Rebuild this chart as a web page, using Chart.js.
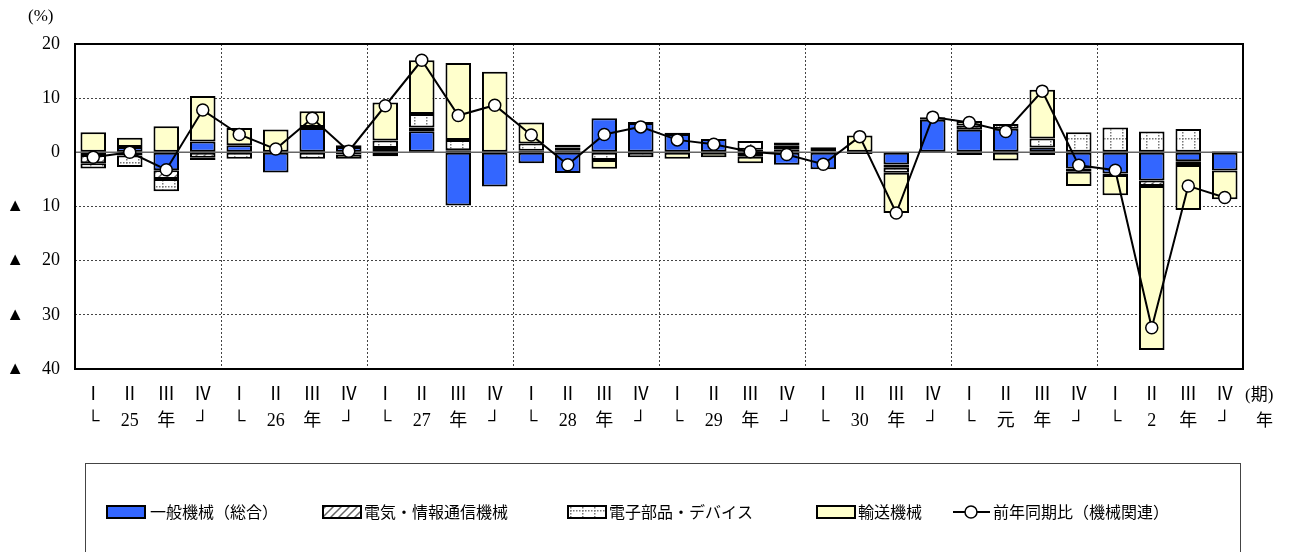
<!DOCTYPE html>
<html>
<head>
<meta charset="utf-8">
<script src="https://cdn.jsdelivr.net/npm/chart.js@4.4.0/dist/chart.umd.min.js"></script>
<style>
  body { margin: 0; background: #fff; }
</style>
</head>
<body>
<canvas id="chart" width="1293" height="552"></canvas>
<script>
// years and quarters on the x axis
const years = ['25', '26', '27', '28', '29', '30', '元', '2'];
const quarterNames = ['Ⅰ', 'Ⅱ', 'Ⅲ', 'Ⅳ'];

// contributions (percentage points)
const general   = [-0.5, 1.0, -3.3, 2.0,  1.3, -3.7, 4.5, 1.0,  -0.7, 3.9, -9.8, -6.3,  -2.0, -3.8, 6.3, 5.4,
                    3.4, 2.45, -0.8, -2.3,  -3.1, -0.3, -2.25, 6.0,  4.15, 4.35, 0.9, -3.0,  -3.9, -5.2, -1.65, -3.35];
const electric  = [-1.5, -0.6, -1.6, -1.0,  0, 0, 0.2, 0.3,  0.8, 0.7, 0.4, 0,  0.3, 0.4, 0, 0.2,
                    0.2, 0, 0.5, 0.5,  0, 0, -0.6, 0.5,  0.8, 0, -0.5, -0.6,  -0.3, -1.0, -0.7, 0.2];
const parts     = [-1.0, -2.1, -2.3, -0.4,  -1.2, 0, -1.2, -0.4,  1.4, 2.5, 1.9, 0,  1.35, 0.5, -1.4, -0.9,
                    0, 0, 1.6, 0.7,  0.2, 0, -0.9, 0,  -0.5, 0.9, 1.65, 3.7,  4.6, 3.85, 4.3, 0];
const transport = [3.7, 1.7, 4.8, 8.4,  3.2, 4.2, 2.9, -0.8,  7.0, 9.9, 14.2, 14.9,  3.85, 0.5, -1.65, 0,
                    -1.2, -0.9, -1.2, 0.6,  0.75, 3.1, -7.45, 0,  0.85, -1.5, 9.0, -2.6,  -3.7, -30.3, -8.3, -5.3];
// year-on-year change (machinery total)
const total     = [-0.9, 0.0, -3.2, 7.8,  3.3, 0.6, 6.3, 0.2,  8.6, 17.0, 6.8, 8.7,  3.2, -2.3, 3.3, 4.7,
                    2.3, 1.5, 0.1, -0.4,  -2.2, 2.9, -11.2, 6.5,  5.5, 3.85, 11.3, -2.4,  -3.3, -32.4, -6.2, -8.35];

const seriesNames = ['一般機械（総合）', '電気・情報通信機械', '電子部品・デバイス', '輸送機械', '前年同期比（機械関連）'];

const labels = [];
years.forEach(y => {
  labels.push([quarterNames[0], '└']);
  labels.push([quarterNames[1], y]);
  labels.push([quarterNames[2], '年']);
  labels.push([quarterNames[3], '┘']);
});

const SERIF = "'Liberation Serif', 'Noto Sans CJK JP', serif";
const GOTHIC = "'Noto Sans CJK JP', sans-serif";

function hatchPattern() {
  const c = document.createElement('canvas');
  c.width = 8; c.height = 8;
  const g = c.getContext('2d');
  g.fillStyle = '#fff';
  g.fillRect(0, 0, 8, 8);
  g.strokeStyle = '#666';
  g.lineWidth = 1.5;
  g.beginPath();
  g.moveTo(0, 8); g.lineTo(8, 0);
  g.moveTo(-4, 4); g.lineTo(4, -4);
  g.moveTo(4, 12); g.lineTo(12, 4);
  g.stroke();
  return g.createPattern(c, 'repeat');
}

function dotPattern() {
  const c = document.createElement('canvas');
  c.width = 12; c.height = 12;
  const g = c.getContext('2d');
  g.fillStyle = '#fff';
  g.fillRect(0, 0, 12, 12);
  g.fillStyle = '#777';
  for (let i = 0; i < 12; i += 3) {
    g.fillRect(i, 6, 1.5, 1.5);
    g.fillRect(6, i, 1.5, 1.5);
  }
  return g.createPattern(c, 'repeat');
}

const fills = ['#3366ff', hatchPattern(), dotPattern(), '#ffffcc'];
const nz = arr => arr.map(v => (v === 0 ? null : v));

const barSets = [general, electric, parts, transport].map((d, i) => ({
  type: 'bar',
  label: seriesNames[i],
  data: nz(d),
  backgroundColor: fills[i],
  borderColor: '#000',
  borderWidth: 2,
  borderSkipped: false,
  barPercentage: 0.7,
  categoryPercentage: 1,
  order: 1
}));

const deco = {
  id: 'deco',
  beforeDatasetsDraw(chart) {
    const { ctx, chartArea: a, scales: { y } } = chart;
    const y0 = y.getPixelForValue(0);
    ctx.save();
    ctx.strokeStyle = '#666';
    ctx.lineWidth = 1.5;
    ctx.beginPath();
    ctx.moveTo(a.left, y0);
    ctx.lineTo(a.right, y0);
    ctx.stroke();
    ctx.restore();
  },
  afterDraw(chart) {
    const { ctx, chartArea: a } = chart;
    ctx.save();
    ctx.strokeStyle = '#000';
    ctx.lineWidth = 2;
    ctx.strokeRect(a.left, a.top, a.right - a.left, a.bottom - a.top);

    ctx.fillStyle = '#000';
    ctx.font = '17px ' + SERIF;
    ctx.textBaseline = 'middle';
    ctx.textAlign = 'left';
    ctx.fillText('(%)', 28, 17);
    ctx.fillText('(期)', 1245, 396);
    ctx.fillText('年', 1256, 422);

    // legend frame
    ctx.strokeStyle = '#444';
    ctx.lineWidth = 1;
    ctx.strokeRect(85.5, 463.5, 1155, 100);

    ctx.font = '16px ' + GOTHIC;
    const ly = 512;
    const items = [
      { x: 107, tx: 150 },
      { x: 323, tx: 364 },
      { x: 568, tx: 609 },
      { x: 817, tx: 858 }
    ];
    items.forEach((it, i) => {
      ctx.fillStyle = fills[i];
      ctx.fillRect(it.x, ly - 6, 38, 12);
      ctx.strokeStyle = '#000';
      ctx.lineWidth = 2;
      ctx.strokeRect(it.x, ly - 6, 38, 12);
      ctx.fillStyle = '#000';
      ctx.fillText(seriesNames[i], it.tx, ly);
    });
    ctx.strokeStyle = '#000';
    ctx.lineWidth = 2;
    ctx.beginPath();
    ctx.moveTo(953, ly); ctx.lineTo(990, ly);
    ctx.stroke();
    ctx.beginPath();
    ctx.arc(971, ly, 6, 0, Math.PI * 2);
    ctx.fillStyle = '#fff';
    ctx.fill();
    ctx.lineWidth = 1.5;
    ctx.stroke();
    ctx.fillStyle = '#000';
    ctx.fillText(seriesNames[4], 993, ly);
    ctx.restore();
  }
};

new Chart(document.getElementById('chart'), {
  data: {
    labels: labels,
    datasets: [
      ...barSets,
      {
        type: 'line',
        label: seriesNames[4],
        data: total,
        stack: 'line',
        borderColor: '#000',
        borderWidth: 2,
        pointRadius: 6,
        pointBackgroundColor: '#fff',
        pointBorderColor: '#000',
        pointBorderWidth: 1.5,
        tension: 0,
        order: 0
      }
    ]
  },
  options: {
    responsive: false,
    animation: false,
    layout: { padding: { top: 44, right: 50, bottom: 113, left: 0 } },
    plugins: { legend: { display: false }, tooltip: { enabled: false } },
    scales: {
      x: {
        stacked: true,
        offset: true,
        grid: {
          offset: true,
          drawTicks: false,
          color: c => (c.index % 4 === 0 ? '#444' : 'transparent'),
          lineWidth: 1
        },
        border: { display: false, dash: [2, 2] },
        ticks: {
          color: '#000',
          font: { family: SERIF, size: 18, lineHeight: 1.45 },
          padding: 13,
          maxRotation: 0,
          autoSkip: false
        },
        afterFit: s => { s.height = 70; }
      },
      y: {
        stacked: true,
        min: -40,
        max: 20,
        grid: {
          drawTicks: false,
          color: c => (c.tick.value === 0 ? 'transparent' : '#444'),
          lineWidth: 1
        },
        border: { display: false, dash: [2, 2] },
        ticks: {
          stepSize: 10,
          color: '#000',
          font: { family: SERIF, size: 18 },
          padding: 15,
          callback: v => (v < 0 ? '▲    ' + (-v) : String(v))
        },
        afterFit: s => { s.width = 75; }
      }
    }
  },
  plugins: [deco]
});
</script>
</body>
</html>
